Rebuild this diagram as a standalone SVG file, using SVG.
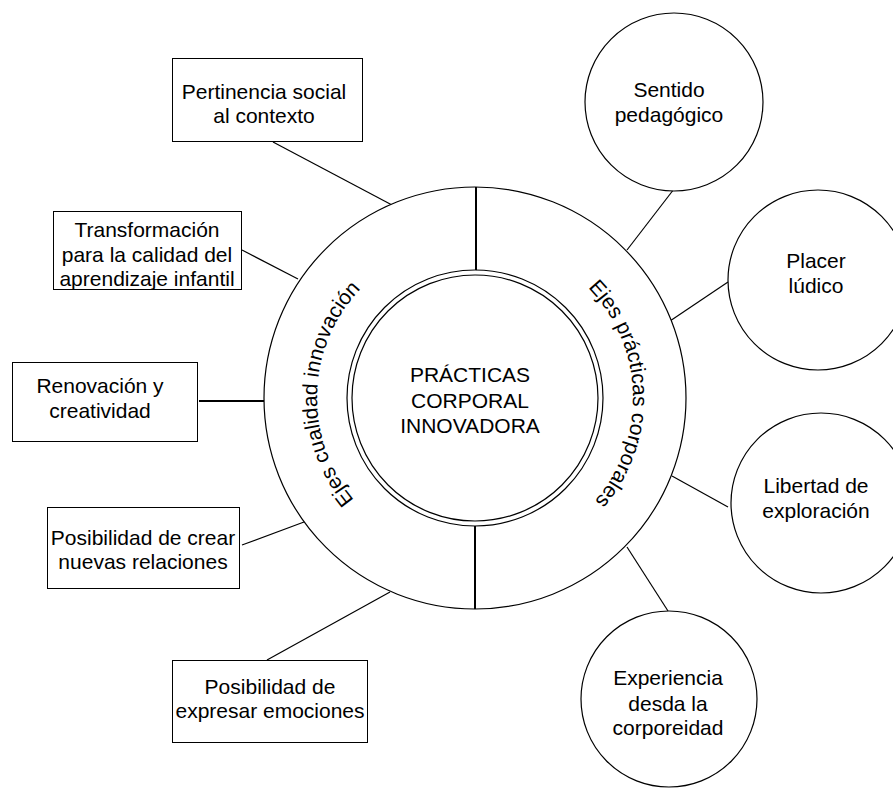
<svg xmlns="http://www.w3.org/2000/svg" width="893" height="789" viewBox="0 0 893 789">
<defs>
<style>
.bx{fill:#fff;stroke:#000;stroke-width:1}
.cr{fill:#fff;stroke:#000;stroke-width:1.2}
.ln{stroke:#000;stroke-width:1.2;fill:none}
.thk{stroke:#000;stroke-width:2;fill:none}
text{font-family:"Liberation Sans",Arial,Helvetica,sans-serif;font-size:21px;fill:#000}
.c{text-anchor:middle}
.arc{font-size:21px}
</style>
<path id="arcL" d="M 475 556 A 158 158 0 0 1 475 240"/>
<path id="arcR" d="M 475 240 A 158 158 0 0 1 475 556"/>
</defs>
<rect width="893" height="789" fill="#fff"/>

<g id="connectors">
<line class="ln" x1="273" y1="142" x2="392" y2="205"/>
<line class="ln" x1="242" y1="250" x2="298" y2="279"/>
<line class="thk" x1="199" y1="401" x2="264" y2="401"/>
<line class="ln" x1="242" y1="545" x2="304" y2="522"/>
<line class="ln" x1="267" y1="660" x2="390" y2="592"/>
<line class="ln" x1="674" y1="189" x2="627" y2="250"/>
<line class="ln" x1="728" y1="282" x2="670" y2="321"/>
<line class="ln" x1="728" y1="507" x2="672" y2="476"/>
<line class="ln" x1="668" y1="611" x2="627" y2="547"/>
</g>

<g id="hub">
<circle class="cr" cx="475" cy="398" r="211"/>
<line class="thk" x1="476" y1="187" x2="476" y2="272"/>
<line class="thk" x1="475" y1="525" x2="475" y2="609"/>
<circle class="cr" cx="475" cy="398" r="128"/>
<circle class="cr" cx="475" cy="398" r="123"/>
<text class="c" x="470" y="382">PRÁCTICAS</text>
<text class="c" x="470" y="408">CORPORAL</text>
<text class="c" x="470" y="433">INNOVADORA</text>
<text class="arc"><textPath href="#arcL" startOffset="51%" text-anchor="middle">Ejes cualidad innovación</textPath></text>
<text class="arc"><textPath href="#arcR" startOffset="49%" text-anchor="middle">Ejes prácticas corporales</textPath></text>
</g>

<g id="pertinencia">
<rect class="bx" x="172.5" y="58.5" width="190" height="83"/>
<text class="c" x="264" y="99">Pertinencia social</text>
<text class="c" x="264" y="123">al contexto</text>
</g>

<g id="transformacion">
<rect class="bx" x="53.5" y="211.5" width="188" height="78"/>
<text class="c" x="147" y="237">Transformación</text>
<text class="c" x="147" y="262">para la calidad del</text>
<text class="c" x="147" y="286">aprendizaje infantil</text>
</g>

<g id="renovacion">
<rect class="bx" x="12.5" y="362.5" width="185" height="79"/>
<text class="c" x="100" y="393">Renovación y</text>
<text class="c" x="100" y="418">creatividad</text>
</g>

<g id="posibilidad-crear">
<rect class="bx" x="47.5" y="507.5" width="192" height="81"/>
<text class="c" x="143" y="545">Posibilidad de crear</text>
<text class="c" x="143" y="569">nuevas relaciones</text>
</g>

<g id="posibilidad-expresar">
<rect class="bx" x="172.5" y="660.5" width="195" height="82"/>
<text class="c" x="270" y="694">Posibilidad de</text>
<text class="c" x="270" y="718">expresar emociones</text>
</g>

<g id="sentido">
<circle class="cr" cx="674" cy="102" r="89"/>
<text class="c" x="669" y="97">Sentido</text>
<text class="c" x="669" y="122">pedagógico</text>
</g>

<g id="placer">
<circle class="cr" cx="818" cy="280" r="90"/>
<text class="c" x="816" y="268">Placer</text>
<text class="c" x="816" y="293">lúdico</text>
</g>

<g id="libertad">
<circle class="cr" cx="821" cy="503" r="90"/>
<text class="c" x="816" y="493">Libertad de</text>
<text class="c" x="816" y="518">exploración</text>
</g>

<g id="experiencia">
<circle class="cr" cx="669" cy="699" r="88"/>
<text class="c" x="668" y="685">Experiencia</text>
<text class="c" x="668" y="711">desda la</text>
<text class="c" x="668" y="735">corporeidad</text>
</g>
</svg>
